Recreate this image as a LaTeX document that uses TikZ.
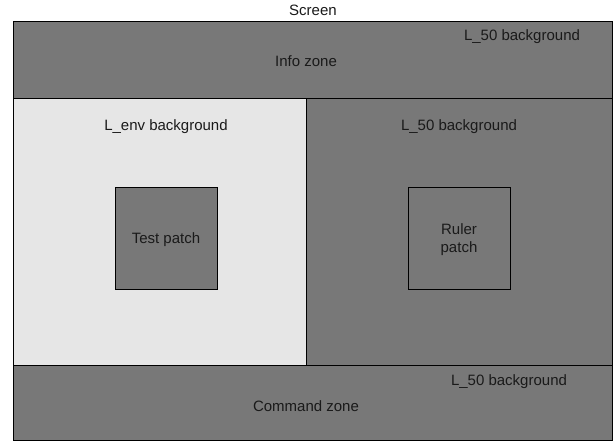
\documentclass[tikz,border=0pt]{standalone}
\usepackage{fontspec}
\setmainfont{Liberation Sans}
\definecolor{darkfill}{HTML}{787878}
\definecolor{lightfill}{HTML}{E6E6E6}
\definecolor{txt}{HTML}{1A1A1A}
\begin{document}
\begin{tikzpicture}[x=1pt,y=-1pt,
  zone/.style={draw=black,line width=1pt},
  lbl/.style={text=txt,font=\fontsize{15}{18}\selectfont,inner sep=0pt,align=center}]
\useasboundingbox (0,0) rectangle (613,444);
\fill[white] (0,0) rectangle (613,444);
% zones
\filldraw[zone,fill=darkfill] (13,21.5) rectangle (612,98);
\filldraw[zone,fill=lightfill] (13,98) rectangle (306,365.5);
\filldraw[zone,fill=darkfill] (306,98) rectangle (612,365.5);
\filldraw[zone,fill=darkfill] (13,365.5) rectangle (612,440.5);
% patches
\node[zone,fill=darkfill,minimum width=102pt,minimum height=102pt,inner sep=0pt] (test) at (166,238.3) {};
\node[zone,fill=darkfill,minimum width=102pt,minimum height=102pt,inner sep=0pt] (ruler) at (459,238.3) {};
% labels
\node[lbl] (screen) at (313,10) {Screen};
\node[lbl] (infobg) at (522,36.5) {L\_50 background};
\node[lbl] (info) at (306,61.5) {Info zone};
\node[lbl] (envbg) at (166,126.5) {L\_env background};
\node[lbl] (rightbg) at (459,126.5) {L\_50 background};
\node[lbl] (testlbl) at ([yshift=-1.5pt]test.center) {Test patch};
\node[lbl] (rulerlbl) at ([yshift=-1pt]ruler.center) {Ruler\\patch};
\node[lbl] (cmdbg) at (509,381.5) {L\_50 background};
\node[lbl] (cmd) at (306,406.5) {Command zone};
\end{tikzpicture}
\end{document}
